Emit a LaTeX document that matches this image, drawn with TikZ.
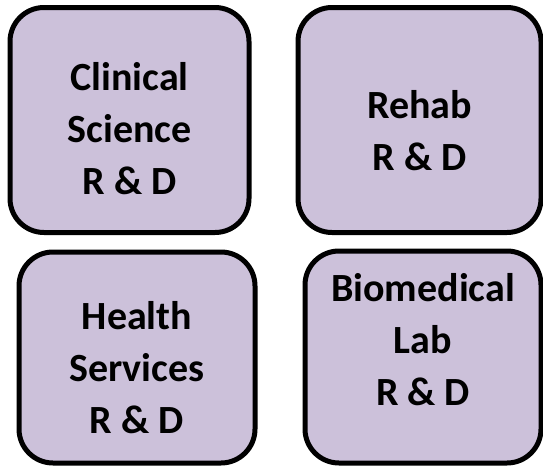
\documentclass[tikz,border=0pt]{standalone}
\usepackage{fontspec}
\setmainfont{Carlito}
\usepackage{tikz}
\usetikzlibrary{positioning}
\definecolor{lavender}{HTML}{CCC1DA}
\tikzset {
    x=1pt,
    y=-1pt,
    unit/.style={draw=black, line width=5pt, fill=lavender, rounded corners=34pt, inner sep=0pt},
    unittext/.style={align=center, font=\fontsize{40}{52}\selectfont\bfseries}
}

\begin{document}
\begin{tikzpicture}
                        \useasboundingbox (0,0) rectangle (543,466);

                        \node[unit, minimum width=239pt, minimum height=225pt] (clin) at (129.5,120) {};
                        \node[unit, minimum width=243pt, minimum height=225pt] (rehab) at (419.5,120) {};
                        \node[unit, minimum width=236pt, minimum height=211pt] (hsrd) at (137,357.5) {};
                        \node[unit, minimum width=236pt, minimum height=212pt] (blrd) at (423,357) {};

                        \node[unittext] (clintext) at ([yshift=-9pt]clin.center) {Clinical\\Science\\R \& D};
                        \node[unittext] (rehabtext) at ([yshift=-11pt]rehab.center) {Rehab\\R \& D};
                        \node[unittext] (hsrdtext) at ([yshift=-10pt]hsrd.center) {Health\\Services\\R \& D};
                        \node[unittext] (blrdtext) at ([yshift=17pt]blrd.center) {Biomedical\\Lab\\R \& D};
                    \end{tikzpicture}
\end{document}
